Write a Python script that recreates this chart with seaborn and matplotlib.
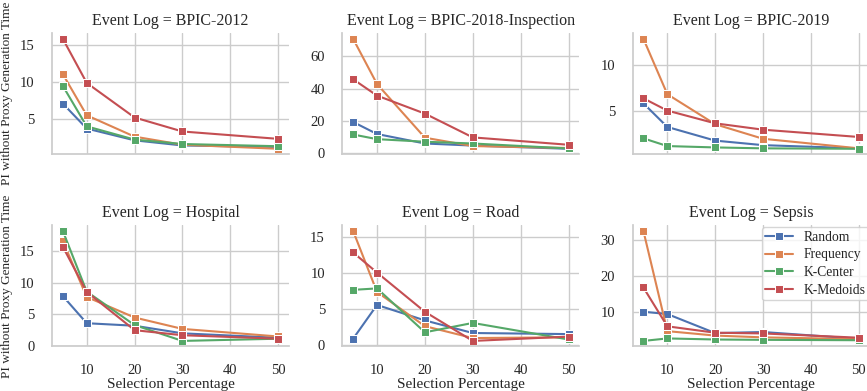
import pandas as pd
import numpy as np
import seaborn as sns
import matplotlib.pyplot as plt

percentages = [5, 10, 20, 30, 50]
methods = ["Random", "Frequency", "K-Center", "K-Medoids"]
event_logs = ["BPIC-2012", "BPIC-2018-Inspection", "BPIC-2019", "Hospital", "Road", "Sepsis"]

# values per event log, one list per method (Random, Frequency, K-Center, K-Medoids)
bpic_2012 = [
    [7.1, 3.7, 2.1, 1.4, 1.2],
    [11.1, 5.5, 2.6, 1.5, 0.95],
    [9.5, 4.0, 2.2, 1.6, 1.3],
    [15.9, 9.9, 5.2, 3.3, 2.3],
]
bpic_2018 = [
    [19.2, 11.7, 5.8, 4.5, 2.5],
    [71.0, 42.8, 9.4, 4.2, 3.0],
    [11.4, 8.5, 6.9, 5.8, 2.7],
    [45.8, 35.6, 24.4, 9.6, 5.0],
]
bpic_2019 = [
    [5.8, 3.2, 1.7, 1.2, 0.85],
    [12.9, 6.8, 3.5, 1.9, 0.85],
    [1.95, 1.1, 0.95, 0.85, 0.8],
    [6.35, 5.0, 3.6, 2.9, 2.1],
]
hospital = [
    [7.9, 3.6, 3.2, 2.0, 1.3],
    [16.6, 7.75, 4.5, 2.7, 1.5],
    [18.2, 8.6, 3.3, 0.8, 1.15],
    [15.7, 8.55, 2.5, 1.7, 1.15],
]
road = [
    [0.8, 5.5, 3.35, 1.6, 1.45],
    [15.8, 7.3, 2.55, 0.9, 1.0],
    [7.6, 7.8, 1.7, 3.0, 0.7],
    [12.8, 10.0, 4.55, 0.5, 1.1],
]
sepsis = [
    [10.0, 9.35, 4.0, 4.3, 2.4],
    [32.7, 4.55, 3.3, 2.8, 2.3],
    [1.8, 2.5, 2.2, 2.1, 2.0],
    [16.8, 5.9, 4.1, 3.9, 2.7],
]

rows = []
for log, vals in zip(event_logs, [bpic_2012, bpic_2018, bpic_2019, hospital, road, sepsis]):
    for method, series in zip(methods, vals):
        for p, v in zip(percentages, series):
            rows.append({"Event Log": log, "Method": method,
                         "Selection Percentage": p,
                         "PI without Proxy Generation Time": v})
df = pd.DataFrame(rows)

sns.set_theme(style="whitegrid")
plt.rcParams['font.family'] = ['Liberation Serif', 'DejaVu Serif']

fig, axes = plt.subplots(2, 3, figsize=(8.67, 3.91), sharex=True)
fig.subplots_adjust(left=0.06, right=1.003, top=0.915, bottom=0.114, wspace=0.225, hspace=0.587)

for i, (ax, log) in enumerate(zip(axes.flat, event_logs)):
    sub = df[df["Event Log"] == log]
    sns.lineplot(data=sub, x="Selection Percentage", y="PI without Proxy Generation Time",
                 hue="Method", hue_order=methods, marker="s", markersize=6,
                 markeredgecolor="white", linewidth=1.5, ax=ax, legend=(i == 5))
    ax.set_title(f"Event Log = {log}", fontsize=11.5)
    ax.tick_params(labelsize=10.5, pad=6.5)
    if i % 3 != 0:
        ax.set_ylabel("")
    else:
        ax.set_ylabel("PI without Proxy Generation Time", fontsize=9.5, labelpad=5)
    if i < 3:
        ax.set_xlabel("")
    else:
        ax.set_xlabel("Selection Percentage", fontsize=11, labelpad=1)
    sns.despine(ax=ax)

handles, labels = axes.flat[5].get_legend_handles_labels()
axes.flat[5].legend(handles, labels, loc="upper left", bbox_to_anchor=(0.546, 0.985),
                    borderaxespad=0, fontsize=9.8, labelspacing=0.35, handlelength=2.0,
                    handletextpad=0.8, borderpad=0.25, frameon=True)

fig.savefig("out.png", dpi=100)
